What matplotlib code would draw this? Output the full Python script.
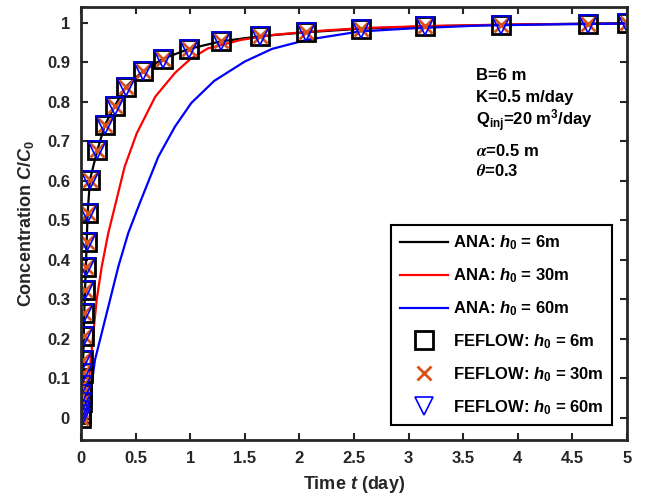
import matplotlib
matplotlib.use('Agg')
import matplotlib.pyplot as plt
from matplotlib import font_manager
import numpy as np

# pick a narrow font if we have one
names = set(f.name for f in font_manager.fontManager.ttflist)
fam = 'Liberation Sans Narrow' if 'Liberation Sans Narrow' in names else 'Liberation Sans'

plt.rcParams['font.family'] = [fam, 'DejaVu Sans']
plt.rcParams['font.weight'] = 'bold'
plt.rcParams['axes.labelweight'] = 'bold'
plt.rcParams['mathtext.fontset'] = 'custom'
plt.rcParams['mathtext.rm'] = fam + ':bold'
plt.rcParams['mathtext.bf'] = fam + ':bold'
plt.rcParams['mathtext.it'] = fam + ':italic:bold'
plt.rcParams['mathtext.sf'] = 'STIXGeneral:italic'

# FEFLOW output times (day) and concentration (same for all three h0)
t_fe = [0, 0.002, 0.004, 0.006, 0.009, 0.012, 0.015, 0.02, 0.025, 0.03, 0.037,
        0.045, 0.052, 0.061, 0.082, 0.15, 0.22, 0.31, 0.41, 0.565, 0.75, 0.99,
        1.28, 1.64, 2.06, 2.56, 3.15, 3.85, 4.64, 5.0]
c_fe = [0, 0.01, 0.02, 0.04, 0.06, 0.083, 0.114, 0.147, 0.206, 0.266, 0.324,
        0.383, 0.446, 0.519, 0.603, 0.678, 0.742, 0.79, 0.838, 0.877, 0.909, 0.934,
        0.953, 0.966, 0.976, 0.985, 0.991, 0.995, 0.998, 0.999]

# analytical solutions
t_ana6 = t_fe
c_ana6 = c_fe

t_ana30 = [0, 0.04, 0.07, 0.089, 0.113, 0.144, 0.19, 0.25, 0.31, 0.40, 0.51, 0.68,
           0.86, 1.0, 1.16, 1.47, 1.78, 2.2, 2.6, 3.2, 4.0, 5.0]
c_ana30 = [0, 0.01, 0.08, 0.147, 0.215, 0.30, 0.383, 0.468, 0.535, 0.636, 0.72, 0.813,
           0.873, 0.908, 0.935, 0.957, 0.970, 0.980, 0.987, 0.992, 0.996, 0.998]

t_ana60 = [0, 0.05, 0.08, 0.103, 0.128, 0.19, 0.266, 0.342, 0.433, 0.54, 0.708, 0.86,
           1.01, 1.22, 1.5, 1.75, 2.07, 2.55, 3.04, 3.65, 4.3, 5.0]
c_ana60 = [0, 0.01, 0.05, 0.096, 0.147, 0.215, 0.299, 0.383, 0.468, 0.545, 0.661, 0.737,
           0.797, 0.853, 0.902, 0.934, 0.957, 0.978, 0.986, 0.993, 0.996, 0.998]

fig = plt.figure(figsize=(6.46, 5.01), dpi=100)
ax = fig.add_axes([81/646, 1-440/501, 546/646, 433/501])

ax.plot(t_ana6, c_ana6, color='k', lw=1.6, label=r'ANA: $h_0$ = 6m')
ax.plot(t_ana30, c_ana30, color='#ff0000', lw=1.6, label=r'ANA: $h_0$ = 30m')
ax.plot(t_ana60, c_ana60, color='#0000ff', lw=1.6, label=r'ANA: $h_0$ = 60m')
ax.plot(t_fe, c_fe, ls='none', marker='s', ms=13, mfc='none', mec='k', mew=2,
        label=r'FEFLOW: $h_0$ = 6m')
ax.plot(t_fe, c_fe, ls='none', marker='x', ms=10, mec='#D95319', mew=2,
        label=r'FEFLOW: $h_0$ = 30m')
ax.plot(t_fe, c_fe, ls='none', marker='v', ms=13, mfc='none', mec='#0000ff', mew=1.2,
        label=r'FEFLOW: $h_0$ = 60m')

ax.set_xlim(0, 5)
ax.set_ylim(-0.056, 1.04)
ax.set_xticks(np.arange(0, 5.01, 0.5))
ax.set_xticklabels(['0', '0.5', '1', '1.5', '2', '2.5', '3', '3.5', '4', '4.5', '5'])
ax.set_yticks(np.arange(0, 1.01, 0.1))
ax.set_yticklabels(['0', '0.1', '0.2', '0.3', '0.4', '0.5', '0.6', '0.7', '0.8', '0.9', '1'])
ax.tick_params(direction='in', length=5, width=1.5, top=True, right=True,
               labelsize=12, colors='#262626', pad=8)
for s in ax.spines.values():
    s.set_linewidth(2)
    s.set_color('#262626')

ax.set_xlabel(r'Time $t$ (day)', fontsize=13, color='#262626', labelpad=6)
ax.set_ylabel(r'Concentration $C/C_0$', fontsize=13, color='#262626', labelpad=8)

leg = ax.legend(loc='lower right', fontsize=12, handlelength=2.9, handletextpad=0.3,
                labelspacing=0.85, borderaxespad=0.9, fancybox=False, framealpha=1,
                edgecolor='k', borderpad=0.5)
leg.get_frame().set_linewidth(1.5)

kw = dict(transform=ax.transAxes, fontsize=12, va='baseline', ha='left')
ax.text(0.7234, (440-80)/433, 'B=6 m', **kw)
ax.text(0.7234, (440-102)/433, 'K=0.5 m/day', **kw)
ax.text(0.7234, (440-126)/433, r'Q$_{\mathrm{inj}}$=20 m$^3$/day', **kw)
ax.text(0.7234, (440-156)/433, r'$\mathsf{\alpha}$=0.5 m', **kw)
ax.text(0.7234, (440-176)/433, r'$\mathsf{\theta}$=0.3', **kw)

fig.savefig('out.png', dpi=100)
